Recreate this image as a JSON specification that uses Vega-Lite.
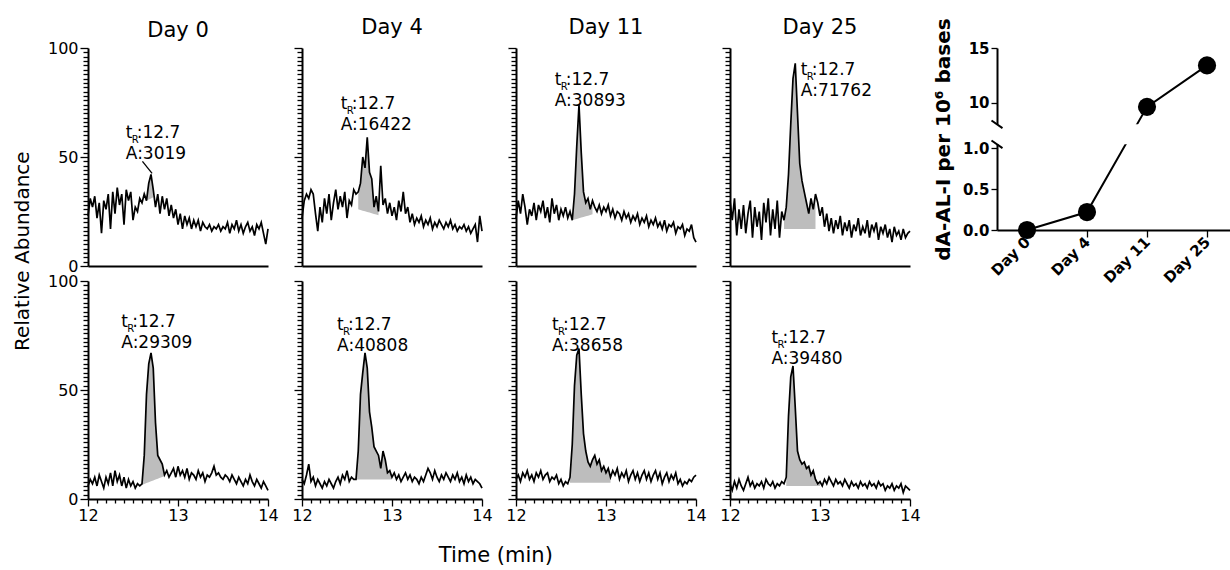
{
"$schema":"https://vega.github.io/schema/vega-lite/v6.json",
"padding":{"left":13,"top":17,"right":0,"bottom":0},
"background":"white",
"config":{
 "view":{"stroke":null},
 "font":"DejaVu Sans",
 "axis":{"domainColor":"#000","domainWidth":2,"tickColor":"#000","tickWidth":1.3,"labelColor":"#000","labelFont":"DejaVu Sans","labelFontSize":16,"titleColor":"#000","titleFont":"DejaVu Sans","grid":false},
 "title":{"color":"#000","font":"DejaVu Sans","fontWeight":"normal"},
 "text":{"font":"DejaVu Sans","color":"#000"}
},
"datasets":{
"d0t":[{"x":12,"y":23},{"x":12.025,"y":31},{"x":12.05,"y":27},{"x":12.075,"y":32},{"x":12.1,"y":22},{"x":12.125,"y":29},{"x":12.15,"y":15},{"x":12.175,"y":30},{"x":12.2,"y":26},{"x":12.225,"y":33},
{"x":12.25,"y":17},{"x":12.275,"y":34},{"x":12.3,"y":24},{"x":12.325,"y":36},{"x":12.35,"y":28},{"x":12.375,"y":33},{"x":12.4,"y":19},{"x":12.425,"y":35},{"x":12.45,"y":30},{"x":12.475,"y":34},
{"x":12.5,"y":21},{"x":12.525,"y":27},{"x":12.55,"y":25},{"x":12.575,"y":31},{"x":12.6,"y":29},{"x":12.625,"y":33},{"x":12.65,"y":30,"b":30},{"x":12.675,"y":38,"b":30.5},{"x":12.7,"y":42,"b":31},{"x":12.725,"y":35,"b":31.5},
{"x":12.75,"y":27},{"x":12.775,"y":33},{"x":12.8,"y":24},{"x":12.825,"y":32},{"x":12.85,"y":26},{"x":12.875,"y":31},{"x":12.9,"y":23},{"x":12.925,"y":28},{"x":12.95,"y":22},{"x":12.975,"y":26},
{"x":13,"y":19},{"x":13.025,"y":24},{"x":13.05,"y":17},{"x":13.075,"y":23},{"x":13.1,"y":19},{"x":13.125,"y":22},{"x":13.15,"y":17},{"x":13.175,"y":21},{"x":13.2,"y":18},{"x":13.225,"y":21},
{"x":13.25,"y":16},{"x":13.275,"y":20},{"x":13.3,"y":18},{"x":13.325,"y":17},{"x":13.35,"y":19},{"x":13.375,"y":16},{"x":13.4,"y":18},{"x":13.425,"y":17},{"x":13.45,"y":19},{"x":13.475,"y":16},
{"x":13.5,"y":18},{"x":13.525,"y":17},{"x":13.55,"y":20},{"x":13.575,"y":15},{"x":13.6,"y":19},{"x":13.625,"y":17},{"x":13.65,"y":21},{"x":13.675,"y":16},{"x":13.7,"y":19},{"x":13.725,"y":15},
{"x":13.75,"y":18},{"x":13.775,"y":20},{"x":13.8,"y":16},{"x":13.825,"y":18},{"x":13.85,"y":14},{"x":13.875,"y":19},{"x":13.9,"y":17},{"x":13.925,"y":20},{"x":13.95,"y":15},{"x":13.975,"y":10},
{"x":14,"y":17}],
"d4t":[{"x":12,"y":22},{"x":12.025,"y":30},{"x":12.05,"y":33},{"x":12.075,"y":31},{"x":12.1,"y":35},{"x":12.125,"y":33},{"x":12.15,"y":24},{"x":12.175,"y":16},{"x":12.2,"y":27},{"x":12.225,"y":20},
{"x":12.25,"y":31},{"x":12.275,"y":24},{"x":12.3,"y":33},{"x":12.325,"y":21},{"x":12.35,"y":29},{"x":12.375,"y":35},{"x":12.4,"y":26},{"x":12.425,"y":32},{"x":12.45,"y":27},{"x":12.475,"y":34},
{"x":12.5,"y":22},{"x":12.525,"y":30},{"x":12.55,"y":28},{"x":12.575,"y":35},{"x":12.6,"y":33},{"x":12.625,"y":34,"b":26},{"x":12.65,"y":38,"b":25.7},{"x":12.675,"y":50,"b":25.4},{"x":12.7,"y":45,"b":25.1},{"x":12.725,"y":59,"b":24.8},
{"x":12.75,"y":43,"b":24.5},{"x":12.775,"y":40,"b":24.2},{"x":12.8,"y":27,"b":23.9},{"x":12.825,"y":32,"b":23.6},{"x":12.85,"y":25,"b":23.3},{"x":12.875,"y":46},{"x":12.9,"y":28},{"x":12.925,"y":31},{"x":12.95,"y":24},{"x":12.975,"y":29},
{"x":13,"y":23},{"x":13.025,"y":27},{"x":13.05,"y":21},{"x":13.075,"y":30},{"x":13.1,"y":25},{"x":13.125,"y":34},{"x":13.15,"y":24},{"x":13.175,"y":27},{"x":13.2,"y":20},{"x":13.225,"y":24},
{"x":13.25,"y":19},{"x":13.275,"y":22},{"x":13.3,"y":20},{"x":13.325,"y":23},{"x":13.35,"y":18},{"x":13.375,"y":21},{"x":13.4,"y":19},{"x":13.425,"y":22},{"x":13.45,"y":17},{"x":13.475,"y":20},
{"x":13.5,"y":18},{"x":13.525,"y":21},{"x":13.55,"y":19},{"x":13.575,"y":17},{"x":13.6,"y":20},{"x":13.625,"y":18},{"x":13.65,"y":21},{"x":13.675,"y":17},{"x":13.7,"y":19},{"x":13.725,"y":16},
{"x":13.75,"y":18},{"x":13.775,"y":17},{"x":13.8,"y":19},{"x":13.825,"y":16},{"x":13.85,"y":18},{"x":13.875,"y":15},{"x":13.9,"y":17},{"x":13.925,"y":19},{"x":13.95,"y":11},{"x":13.975,"y":23},
{"x":14,"y":16}],
"d11t":[{"x":12,"y":22},{"x":12.025,"y":30},{"x":12.05,"y":24},{"x":12.075,"y":33},{"x":12.1,"y":27},{"x":12.125,"y":19},{"x":12.15,"y":26},{"x":12.175,"y":23},{"x":12.2,"y":29},{"x":12.225,"y":21},
{"x":12.25,"y":28},{"x":12.275,"y":25},{"x":12.3,"y":30},{"x":12.325,"y":22},{"x":12.35,"y":27},{"x":12.375,"y":20},{"x":12.4,"y":31},{"x":12.425,"y":24},{"x":12.45,"y":28},{"x":12.475,"y":21},
{"x":12.5,"y":26},{"x":12.525,"y":23},{"x":12.55,"y":27},{"x":12.575,"y":22},{"x":12.6,"y":25},{"x":12.625,"y":21,"b":21},{"x":12.65,"y":33,"b":21.3},{"x":12.675,"y":55,"b":21.6},{"x":12.7,"y":74,"b":21.9},{"x":12.725,"y":52,"b":22.2},
{"x":12.75,"y":34,"b":22.5},{"x":12.775,"y":29,"b":22.8},{"x":12.8,"y":31,"b":23.1},{"x":12.825,"y":26,"b":23.4},{"x":12.85,"y":30,"b":23.7},{"x":12.875,"y":27},{"x":12.9,"y":25},{"x":12.925,"y":28},{"x":12.95,"y":24},{"x":12.975,"y":27},
{"x":13,"y":25},{"x":13.025,"y":28},{"x":13.05,"y":23},{"x":13.075,"y":26},{"x":13.1,"y":22},{"x":13.125,"y":25},{"x":13.15,"y":24},{"x":13.175,"y":21},{"x":13.2,"y":25},{"x":13.225,"y":22},
{"x":13.25,"y":24},{"x":13.275,"y":20},{"x":13.3,"y":23},{"x":13.325,"y":21},{"x":13.35,"y":24},{"x":13.375,"y":19},{"x":13.4,"y":22},{"x":13.425,"y":20},{"x":13.45,"y":23},{"x":13.475,"y":18},
{"x":13.5,"y":21},{"x":13.525,"y":19},{"x":13.55,"y":22},{"x":13.575,"y":18},{"x":13.6,"y":20},{"x":13.625,"y":17},{"x":13.65,"y":21},{"x":13.675,"y":16},{"x":13.7,"y":19},{"x":13.725,"y":18},
{"x":13.75,"y":20},{"x":13.775,"y":15},{"x":13.8,"y":18},{"x":13.825,"y":17},{"x":13.85,"y":19},{"x":13.875,"y":14},{"x":13.9,"y":17},{"x":13.925,"y":16},{"x":13.95,"y":19},{"x":13.975,"y":13},
{"x":14,"y":11}],
"d25t":[{"x":12,"y":30},{"x":12.025,"y":21},{"x":12.05,"y":31},{"x":12.075,"y":14},{"x":12.1,"y":26},{"x":12.125,"y":17},{"x":12.15,"y":28},{"x":12.175,"y":15},{"x":12.2,"y":24},{"x":12.225,"y":30},
{"x":12.25,"y":13},{"x":12.275,"y":27},{"x":12.3,"y":18},{"x":12.325,"y":25},{"x":12.35,"y":12},{"x":12.375,"y":29},{"x":12.4,"y":20},{"x":12.425,"y":31},{"x":12.45,"y":14},{"x":12.475,"y":26},
{"x":12.5,"y":17},{"x":12.525,"y":30},{"x":12.55,"y":13},{"x":12.575,"y":25},{"x":12.6,"y":21,"b":17},{"x":12.625,"y":27,"b":17},{"x":12.65,"y":42,"b":17},{"x":12.675,"y":65,"b":17},{"x":12.7,"y":86,"b":17},{"x":12.725,"y":93,"b":17},
{"x":12.75,"y":70,"b":17},{"x":12.775,"y":47,"b":17},{"x":12.8,"y":39,"b":17},{"x":12.825,"y":34,"b":17},{"x":12.85,"y":29,"b":17},{"x":12.875,"y":24,"b":17},{"x":12.9,"y":31,"b":17},{"x":12.925,"y":26,"b":17},{"x":12.95,"y":33,"b":17},{"x":12.975,"y":29},
{"x":13,"y":23},{"x":13.025,"y":27},{"x":13.05,"y":18},{"x":13.075,"y":24},{"x":13.1,"y":16},{"x":13.125,"y":22},{"x":13.15,"y":15},{"x":13.175,"y":21},{"x":13.2,"y":17},{"x":13.225,"y":23},
{"x":13.25,"y":14},{"x":13.275,"y":20},{"x":13.3,"y":16},{"x":13.325,"y":21},{"x":13.35,"y":13},{"x":13.375,"y":19},{"x":13.4,"y":16},{"x":13.425,"y":22},{"x":13.45,"y":14},{"x":13.475,"y":18},
{"x":13.5,"y":15},{"x":13.525,"y":21},{"x":13.55,"y":13},{"x":13.575,"y":19},{"x":13.6,"y":16},{"x":13.625,"y":20},{"x":13.65,"y":12},{"x":13.675,"y":18},{"x":13.7,"y":15},{"x":13.725,"y":19},
{"x":13.75,"y":13},{"x":13.775,"y":17},{"x":13.8,"y":11},{"x":13.825,"y":18},{"x":13.85,"y":14},{"x":13.875,"y":16},{"x":13.9,"y":12},{"x":13.925,"y":17},{"x":13.95,"y":13},{"x":13.975,"y":15},
{"x":14,"y":16}],
"d0b":[{"x":12,"y":6},{"x":12.025,"y":9},{"x":12.05,"y":7},{"x":12.075,"y":10},{"x":12.1,"y":6},{"x":12.125,"y":11},{"x":12.15,"y":8},{"x":12.175,"y":5},{"x":12.2,"y":10},{"x":12.225,"y":7},
{"x":12.25,"y":12},{"x":12.275,"y":6},{"x":12.3,"y":13},{"x":12.325,"y":8},{"x":12.35,"y":11},{"x":12.375,"y":6},{"x":12.4,"y":10},{"x":12.425,"y":5},{"x":12.45,"y":9},{"x":12.475,"y":6},
{"x":12.5,"y":8},{"x":12.525,"y":5},{"x":12.55,"y":7},{"x":12.575,"y":6},{"x":12.6,"y":7,"b":6.5},{"x":12.625,"y":20,"b":6.9},{"x":12.65,"y":48,"b":7.3},{"x":12.675,"y":62,"b":7.7},{"x":12.7,"y":67,"b":8.1},{"x":12.725,"y":60,"b":8.5},
{"x":12.75,"y":35,"b":8.9},{"x":12.775,"y":20,"b":9.3},{"x":12.8,"y":18,"b":9.7},{"x":12.825,"y":16,"b":10.1},{"x":12.85,"y":11,"b":10.5},{"x":12.875,"y":13},{"x":12.9,"y":10},{"x":12.925,"y":12},{"x":12.95,"y":14},{"x":12.975,"y":10},
{"x":13,"y":15},{"x":13.025,"y":11},{"x":13.05,"y":13},{"x":13.075,"y":10},{"x":13.1,"y":14},{"x":13.125,"y":9},{"x":13.15,"y":12},{"x":13.175,"y":11},{"x":13.2,"y":9},{"x":13.225,"y":13},
{"x":13.25,"y":10},{"x":13.275,"y":12},{"x":13.3,"y":8},{"x":13.325,"y":11},{"x":13.35,"y":10},{"x":13.375,"y":12},{"x":13.4,"y":15},{"x":13.425,"y":11},{"x":13.45,"y":12},{"x":13.475,"y":10},
{"x":13.5,"y":9},{"x":13.525,"y":11},{"x":13.55,"y":10},{"x":13.575,"y":8},{"x":13.6,"y":11},{"x":13.625,"y":9},{"x":13.65,"y":7},{"x":13.675,"y":10},{"x":13.7,"y":8},{"x":13.725,"y":6},
{"x":13.75,"y":9},{"x":13.775,"y":7},{"x":13.8,"y":11},{"x":13.825,"y":8},{"x":13.85,"y":6},{"x":13.875,"y":9},{"x":13.9,"y":7},{"x":13.925,"y":5},{"x":13.95,"y":8},{"x":13.975,"y":6},
{"x":14,"y":4}],
"d4b":[{"x":12,"y":9},{"x":12.025,"y":7},{"x":12.05,"y":11},{"x":12.075,"y":16},{"x":12.1,"y":8},{"x":12.125,"y":10},{"x":12.15,"y":6},{"x":12.175,"y":9},{"x":12.2,"y":7},{"x":12.225,"y":5},
{"x":12.25,"y":8},{"x":12.275,"y":6},{"x":12.3,"y":9},{"x":12.325,"y":7},{"x":12.35,"y":5},{"x":12.375,"y":8},{"x":12.4,"y":10},{"x":12.425,"y":7},{"x":12.45,"y":11},{"x":12.475,"y":9},
{"x":12.5,"y":13},{"x":12.525,"y":8},{"x":12.55,"y":10},{"x":12.575,"y":9},{"x":12.6,"y":9,"b":9},{"x":12.625,"y":22,"b":9},{"x":12.65,"y":48,"b":9},{"x":12.675,"y":58,"b":9},{"x":12.7,"y":67,"b":9},{"x":12.725,"y":60,"b":9},
{"x":12.75,"y":40,"b":9},{"x":12.775,"y":33,"b":9},{"x":12.8,"y":24,"b":9},{"x":12.825,"y":22,"b":9},{"x":12.85,"y":20,"b":9},{"x":12.875,"y":14,"b":9},{"x":12.9,"y":22,"b":9},{"x":12.925,"y":18,"b":9},{"x":12.95,"y":12,"b":9},{"x":12.975,"y":13,"b":9},
{"x":13,"y":10,"b":9},{"x":13.025,"y":12},{"x":13.05,"y":9},{"x":13.075,"y":11},{"x":13.1,"y":8},{"x":13.125,"y":10},{"x":13.15,"y":12},{"x":13.175,"y":9},{"x":13.2,"y":11},{"x":13.225,"y":8},
{"x":13.25,"y":10},{"x":13.275,"y":9},{"x":13.3,"y":7},{"x":13.325,"y":10},{"x":13.35,"y":8},{"x":13.375,"y":11},{"x":13.4,"y":14},{"x":13.425,"y":12},{"x":13.45,"y":9},{"x":13.475,"y":13},
{"x":13.5,"y":10},{"x":13.525,"y":8},{"x":13.55,"y":11},{"x":13.575,"y":9},{"x":13.6,"y":12},{"x":13.625,"y":10},{"x":13.65,"y":8},{"x":13.675,"y":11},{"x":13.7,"y":9},{"x":13.725,"y":12},
{"x":13.75,"y":8},{"x":13.775,"y":10},{"x":13.8,"y":7},{"x":13.825,"y":11},{"x":13.85,"y":8},{"x":13.875,"y":10},{"x":13.9,"y":7},{"x":13.925,"y":9},{"x":13.95,"y":8},{"x":13.975,"y":7},
{"x":14,"y":5}],
"d11b":[{"x":12,"y":9},{"x":12.025,"y":11},{"x":12.05,"y":8},{"x":12.075,"y":12},{"x":12.1,"y":10},{"x":12.125,"y":13},{"x":12.15,"y":9},{"x":12.175,"y":11},{"x":12.2,"y":8},{"x":12.225,"y":12},
{"x":12.25,"y":10},{"x":12.275,"y":13},{"x":12.3,"y":9},{"x":12.325,"y":11},{"x":12.35,"y":12},{"x":12.375,"y":8},{"x":12.4,"y":10},{"x":12.425,"y":9},{"x":12.45,"y":11},{"x":12.475,"y":7},
{"x":12.5,"y":9},{"x":12.525,"y":6},{"x":12.55,"y":8},{"x":12.575,"y":7},{"x":12.6,"y":10,"b":7.5},{"x":12.625,"y":25,"b":7.5},{"x":12.65,"y":52,"b":7.5},{"x":12.675,"y":66,"b":7.5},{"x":12.7,"y":69,"b":7.5},{"x":12.725,"y":48,"b":7.5},
{"x":12.75,"y":30,"b":7.5},{"x":12.775,"y":22,"b":7.5},{"x":12.8,"y":17,"b":7.5},{"x":12.825,"y":15,"b":7.5},{"x":12.85,"y":18,"b":7.5},{"x":12.875,"y":20,"b":7.5},{"x":12.9,"y":16,"b":7.5},{"x":12.925,"y":18,"b":7.5},{"x":12.95,"y":13,"b":7.5},{"x":12.975,"y":15,"b":7.5},
{"x":13,"y":12,"b":7.5},{"x":13.025,"y":14,"b":7.5},{"x":13.05,"y":10,"b":7.5},{"x":13.075,"y":13},{"x":13.1,"y":11},{"x":13.125,"y":14},{"x":13.15,"y":9},{"x":13.175,"y":12},{"x":13.2,"y":10},{"x":13.225,"y":13},
{"x":13.25,"y":8},{"x":13.275,"y":11},{"x":13.3,"y":13},{"x":13.325,"y":9},{"x":13.35,"y":12},{"x":13.375,"y":8},{"x":13.4,"y":11},{"x":13.425,"y":13},{"x":13.45,"y":9},{"x":13.475,"y":12},
{"x":13.5,"y":8},{"x":13.525,"y":11},{"x":13.55,"y":13},{"x":13.575,"y":9},{"x":13.6,"y":12},{"x":13.625,"y":7},{"x":13.65,"y":10},{"x":13.675,"y":12},{"x":13.7,"y":8},{"x":13.725,"y":11},
{"x":13.75,"y":9},{"x":13.775,"y":12},{"x":13.8,"y":7},{"x":13.825,"y":9},{"x":13.85,"y":6},{"x":13.875,"y":8},{"x":13.9,"y":7},{"x":13.925,"y":9},{"x":13.95,"y":8},{"x":13.975,"y":10},
{"x":14,"y":11}],
"d25b":[{"x":12,"y":7},{"x":12.025,"y":4},{"x":12.05,"y":8},{"x":12.075,"y":5},{"x":12.1,"y":9},{"x":12.125,"y":6},{"x":12.15,"y":4},{"x":12.175,"y":7},{"x":12.2,"y":10},{"x":12.225,"y":6},
{"x":12.25,"y":8},{"x":12.275,"y":5},{"x":12.3,"y":7},{"x":12.325,"y":6},{"x":12.35,"y":8},{"x":12.375,"y":5},{"x":12.4,"y":9},{"x":12.425,"y":7},{"x":12.45,"y":6},{"x":12.475,"y":8},
{"x":12.5,"y":5},{"x":12.525,"y":7},{"x":12.55,"y":6},{"x":12.575,"y":8},{"x":12.6,"y":7},{"x":12.625,"y":10,"b":6},{"x":12.65,"y":38,"b":6},{"x":12.675,"y":56,"b":6},{"x":12.7,"y":61,"b":6},{"x":12.725,"y":42,"b":6},
{"x":12.75,"y":22,"b":6},{"x":12.775,"y":18,"b":6},{"x":12.8,"y":16,"b":6},{"x":12.825,"y":17,"b":6},{"x":12.85,"y":14,"b":6},{"x":12.875,"y":15,"b":6},{"x":12.9,"y":11,"b":6},{"x":12.925,"y":13,"b":6},{"x":12.95,"y":9,"b":6},{"x":12.975,"y":7,"b":6},
{"x":13,"y":8,"b":6},{"x":13.025,"y":6},{"x":13.05,"y":9},{"x":13.075,"y":7},{"x":13.1,"y":10},{"x":13.125,"y":8},{"x":13.15,"y":6},{"x":13.175,"y":9},{"x":13.2,"y":7},{"x":13.225,"y":8},
{"x":13.25,"y":6},{"x":13.275,"y":9},{"x":13.3,"y":7},{"x":13.325,"y":5},{"x":13.35,"y":8},{"x":13.375,"y":6},{"x":13.4,"y":7},{"x":13.425,"y":5},{"x":13.45,"y":8},{"x":13.475,"y":6},
{"x":13.5,"y":7},{"x":13.525,"y":5},{"x":13.55,"y":8},{"x":13.575,"y":6},{"x":13.6,"y":7},{"x":13.625,"y":5},{"x":13.65,"y":8},{"x":13.675,"y":6},{"x":13.7,"y":7},{"x":13.725,"y":4},
{"x":13.75,"y":6},{"x":13.775,"y":5},{"x":13.8,"y":7},{"x":13.825,"y":4},{"x":13.85,"y":6},{"x":13.875,"y":5},{"x":13.9,"y":7},{"x":13.925,"y":3},{"x":13.95,"y":6},{"x":13.975,"y":5},
{"x":14,"y":4}],
"pts":[{"day":"Day 0","i":0,"v":0},{"day":"Day 4","i":1,"v":0.22},{"day":"Day 11","i":2,"v":9.6},{"day":"Day 25","i":3,"v":13.4}]
},
"hconcat":[
{
 "vconcat":[
 {
 "concat":[
   {"width":180,"height":218,"title":{"text":"Day 0","fontSize":21,"frame":"group","anchor":"middle","baseline":"alphabetic","offset":-18},
    "data":{"name":"d0t"},
    "encoding":{"x":{"field":"x","type":"quantitative","scale":{"domain":[12,14],"nice":false,"zero":false},"axis":{"title":null,"ticks":false,"labels":false}},
                "y":{"field":"y","type":"quantitative","scale":{"domain":[0,100],"nice":false},"axis":{"title":null,"tickCount":50,"labelExpr":"datum.value % 50 === 0 ? format(datum.value,'d') : ''","labelOverlap":false,"labelPadding":2,"tickSize":{"condition":{"test":"datum.value % 50 === 0","value":8},"value":5}}}},
    "layer":[
     {"transform":[{"filter":"isValid(datum.b)"}],"mark":{"type":"area","color":"#bdbdbd"},"encoding":{"y2":{"field":"b"}}},
     {"mark":{"type":"line","color":"#000","strokeWidth":1.7},"encoding":{}},
     {"data":{"values":[{"x":12.605,"y":48,"x2":12.712,"y2":42.5}]},"mark":{"type":"rule","color":"#000","strokeWidth":1.3},"encoding":{"x2":{"field":"x2"},"y2":{"field":"y2"}}},
     {"data":{"values":[{"x":12.42,"y":58.6,"a":"A:3019"}]},"layer":[
      {"mark":{"type":"text","text":"t","align":"left","baseline":"alphabetic","fontSize":17}},
      {"mark":{"type":"text","text":"R","align":"left","baseline":"alphabetic","fontSize":10,"dx":6,"dy":5}},
      {"mark":{"type":"text","text":":12.7","align":"left","baseline":"alphabetic","fontSize":17,"dx":11}},
      {"mark":{"type":"text","align":"left","baseline":"alphabetic","fontSize":17,"dy":21},"encoding":{"text":{"field":"a"}}}]}
    ]},
   {"width":180,"height":218,"title":{"text":"Day 4","fontSize":21,"frame":"group","anchor":"middle","baseline":"alphabetic","offset":-8},
    "data":{"name":"d4t"},
    "encoding":{"x":{"field":"x","type":"quantitative","scale":{"domain":[12,14],"nice":false,"zero":false},"axis":{"title":null,"ticks":false,"labels":false}},
                "y":{"field":"y","type":"quantitative","scale":{"domain":[0,100],"nice":false},"axis":{"title":null,"tickCount":50,"labels":false,"tickSize":{"condition":{"test":"datum.value % 50 === 0","value":8},"value":5}}}},
    "layer":[
     {"transform":[{"filter":"isValid(datum.b)"}],"mark":{"type":"area","color":"#bdbdbd"},"encoding":{"y2":{"field":"b"}}},
     {"mark":{"type":"line","color":"#000","strokeWidth":1.7},"encoding":{}},
     {"data":{"values":[{"x":12.43,"y":72.2,"a":"A:16422"}]},"layer":[
      {"mark":{"type":"text","text":"t","align":"left","baseline":"alphabetic","fontSize":17}},
      {"mark":{"type":"text","text":"R","align":"left","baseline":"alphabetic","fontSize":10,"dx":6,"dy":5}},
      {"mark":{"type":"text","text":":12.7","align":"left","baseline":"alphabetic","fontSize":17,"dx":11}},
      {"mark":{"type":"text","align":"left","baseline":"alphabetic","fontSize":17,"dy":21},"encoding":{"text":{"field":"a"}}}]}
    ]},
   {"width":180,"height":218,"title":{"text":"Day 11","fontSize":21,"frame":"group","anchor":"middle","baseline":"alphabetic","offset":-8},
    "data":{"name":"d11t"},
    "encoding":{"x":{"field":"x","type":"quantitative","scale":{"domain":[12,14],"nice":false,"zero":false},"axis":{"title":null,"ticks":false,"labels":false}},
                "y":{"field":"y","type":"quantitative","scale":{"domain":[0,100],"nice":false},"axis":{"title":null,"tickCount":50,"labels":false,"tickSize":{"condition":{"test":"datum.value % 50 === 0","value":8},"value":5}}}},
    "layer":[
     {"transform":[{"filter":"isValid(datum.b)"}],"mark":{"type":"area","color":"#bdbdbd"},"encoding":{"y2":{"field":"b"}}},
     {"mark":{"type":"line","color":"#000","strokeWidth":1.7},"encoding":{}},
     {"data":{"values":[{"x":12.43,"y":82.9,"a":"A:30893"}]},"layer":[
      {"mark":{"type":"text","text":"t","align":"left","baseline":"alphabetic","fontSize":17}},
      {"mark":{"type":"text","text":"R","align":"left","baseline":"alphabetic","fontSize":10,"dx":6,"dy":5}},
      {"mark":{"type":"text","text":":12.7","align":"left","baseline":"alphabetic","fontSize":17,"dx":11}},
      {"mark":{"type":"text","align":"left","baseline":"alphabetic","fontSize":17,"dy":21},"encoding":{"text":{"field":"a"}}}]}
    ]},
   {"width":180,"height":218,"title":{"text":"Day 25","fontSize":21,"frame":"group","anchor":"middle","baseline":"alphabetic","offset":-8},
    "data":{"name":"d25t"},
    "encoding":{"x":{"field":"x","type":"quantitative","scale":{"domain":[12,14],"nice":false,"zero":false},"axis":{"title":null,"ticks":false,"labels":false}},
                "y":{"field":"y","type":"quantitative","scale":{"domain":[0,100],"nice":false},"axis":{"title":null,"tickCount":50,"labels":false,"tickSize":{"condition":{"test":"datum.value % 50 === 0","value":8},"value":5}}}},
    "layer":[
     {"transform":[{"filter":"isValid(datum.b)"}],"mark":{"type":"area","color":"#bdbdbd"},"encoding":{"y2":{"field":"b"}}},
     {"mark":{"type":"line","color":"#000","strokeWidth":1.7},"encoding":{}},
     {"data":{"values":[{"x":12.787,"y":87.5,"a":"A:71762"}]},"layer":[
      {"mark":{"type":"text","text":"t","align":"left","baseline":"alphabetic","fontSize":17}},
      {"mark":{"type":"text","text":"R","align":"left","baseline":"alphabetic","fontSize":10,"dx":6,"dy":5}},
      {"mark":{"type":"text","text":":12.7","align":"left","baseline":"alphabetic","fontSize":17,"dx":11}},
      {"mark":{"type":"text","align":"left","baseline":"alphabetic","fontSize":17,"dy":21},"encoding":{"text":{"field":"a"}}}]}
    ]},
   {"width":180,"height":218,
    "data":{"name":"d0b"},
    "encoding":{"x":{"field":"x","type":"quantitative","scale":{"domain":[12,14],"nice":false,"zero":false},"axis":{"title":null,"tickCount":20,"labelExpr":"abs(datum.value-round(datum.value))<0.001 ? format(datum.value,'d') : ''","labelOverlap":false,"labelFlush":false,"labelPadding":1,"tickSize":{"condition":{"test":"abs(datum.value-round(datum.value))<0.001","value":7},"value":4}}},
                "y":{"field":"y","type":"quantitative","scale":{"domain":[0,100],"nice":false},"axis":{"title":null,"tickCount":50,"labelExpr":"datum.value % 50 === 0 ? format(datum.value,'d') : ''","labelOverlap":false,"labelPadding":2,"tickSize":{"condition":{"test":"datum.value % 50 === 0","value":8},"value":5}}}},
    "layer":[
     {"transform":[{"filter":"isValid(datum.b)"}],"mark":{"type":"area","color":"#bdbdbd"},"encoding":{"y2":{"field":"b"}}},
     {"mark":{"type":"line","color":"#000","strokeWidth":1.7},"encoding":{}},
     {"data":{"values":[{"x":12.37,"y":79,"a":"A:29309"}]},"layer":[
      {"mark":{"type":"text","text":"t","align":"left","baseline":"alphabetic","fontSize":17}},
      {"mark":{"type":"text","text":"R","align":"left","baseline":"alphabetic","fontSize":10,"dx":6,"dy":5}},
      {"mark":{"type":"text","text":":12.7","align":"left","baseline":"alphabetic","fontSize":17,"dx":11}},
      {"mark":{"type":"text","align":"left","baseline":"alphabetic","fontSize":17,"dy":21},"encoding":{"text":{"field":"a"}}}]}
    ]},
   {"width":180,"height":218,
    "data":{"name":"d4b"},
    "encoding":{"x":{"field":"x","type":"quantitative","scale":{"domain":[12,14],"nice":false,"zero":false},"axis":{"title":null,"tickCount":20,"labelExpr":"abs(datum.value-round(datum.value))<0.001 ? format(datum.value,'d') : ''","labelOverlap":false,"labelFlush":false,"labelPadding":1,"tickSize":{"condition":{"test":"abs(datum.value-round(datum.value))<0.001","value":7},"value":4}}},
                "y":{"field":"y","type":"quantitative","scale":{"domain":[0,100],"nice":false},"axis":{"title":null,"tickCount":50,"labels":false,"tickSize":{"condition":{"test":"datum.value % 50 === 0","value":8},"value":5}}}},
    "layer":[
     {"transform":[{"filter":"isValid(datum.b)"}],"mark":{"type":"area","color":"#bdbdbd"},"encoding":{"y2":{"field":"b"}}},
     {"mark":{"type":"line","color":"#000","strokeWidth":1.7},"encoding":{}},
     {"data":{"values":[{"x":12.39,"y":77.5,"a":"A:40808"}]},"layer":[
      {"mark":{"type":"text","text":"t","align":"left","baseline":"alphabetic","fontSize":17}},
      {"mark":{"type":"text","text":"R","align":"left","baseline":"alphabetic","fontSize":10,"dx":6,"dy":5}},
      {"mark":{"type":"text","text":":12.7","align":"left","baseline":"alphabetic","fontSize":17,"dx":11}},
      {"mark":{"type":"text","align":"left","baseline":"alphabetic","fontSize":17,"dy":21},"encoding":{"text":{"field":"a"}}}]}
    ]},
   {"width":180,"height":218,
    "data":{"name":"d11b"},
    "encoding":{"x":{"field":"x","type":"quantitative","scale":{"domain":[12,14],"nice":false,"zero":false},"axis":{"title":null,"tickCount":20,"labelExpr":"abs(datum.value-round(datum.value))<0.001 ? format(datum.value,'d') : ''","labelOverlap":false,"labelFlush":false,"labelPadding":1,"tickSize":{"condition":{"test":"abs(datum.value-round(datum.value))<0.001","value":7},"value":4}}},
                "y":{"field":"y","type":"quantitative","scale":{"domain":[0,100],"nice":false},"axis":{"title":null,"tickCount":50,"labels":false,"tickSize":{"condition":{"test":"datum.value % 50 === 0","value":8},"value":5}}}},
    "layer":[
     {"transform":[{"filter":"isValid(datum.b)"}],"mark":{"type":"area","color":"#bdbdbd"},"encoding":{"y2":{"field":"b"}}},
     {"mark":{"type":"line","color":"#000","strokeWidth":1.7},"encoding":{}},
     {"data":{"values":[{"x":12.4,"y":77.5,"a":"A:38658"}]},"layer":[
      {"mark":{"type":"text","text":"t","align":"left","baseline":"alphabetic","fontSize":17}},
      {"mark":{"type":"text","text":"R","align":"left","baseline":"alphabetic","fontSize":10,"dx":6,"dy":5}},
      {"mark":{"type":"text","text":":12.7","align":"left","baseline":"alphabetic","fontSize":17,"dx":11}},
      {"mark":{"type":"text","align":"left","baseline":"alphabetic","fontSize":17,"dy":21},"encoding":{"text":{"field":"a"}}}]}
    ]},
   {"width":180,"height":218,
    "data":{"name":"d25b"},
    "encoding":{"x":{"field":"x","type":"quantitative","scale":{"domain":[12,14],"nice":false,"zero":false},"axis":{"title":null,"tickCount":20,"labelExpr":"abs(datum.value-round(datum.value))<0.001 ? format(datum.value,'d') : ''","labelOverlap":false,"labelFlush":false,"labelPadding":1,"tickSize":{"condition":{"test":"abs(datum.value-round(datum.value))<0.001","value":7},"value":4}}},
                "y":{"field":"y","type":"quantitative","scale":{"domain":[0,100],"nice":false},"axis":{"title":null,"tickCount":50,"labels":false,"tickSize":{"condition":{"test":"datum.value % 50 === 0","value":8},"value":5}}}},
    "layer":[
     {"transform":[{"filter":"isValid(datum.b)"}],"mark":{"type":"area","color":"#bdbdbd"},"encoding":{"y2":{"field":"b"}}},
     {"mark":{"type":"line","color":"#000","strokeWidth":1.7},"encoding":{}},
     {"data":{"values":[{"x":12.46,"y":71.4,"a":"A:39480"}]},"layer":[
      {"mark":{"type":"text","text":"t","align":"left","baseline":"alphabetic","fontSize":17}},
      {"mark":{"type":"text","text":"R","align":"left","baseline":"alphabetic","fontSize":10,"dx":6,"dy":5}},
      {"mark":{"type":"text","text":":12.7","align":"left","baseline":"alphabetic","fontSize":17,"dx":11}},
      {"mark":{"type":"text","align":"left","baseline":"alphabetic","fontSize":17,"dy":21},"encoding":{"text":{"field":"a"}}}]}
    ]}
 ],
 "columns":4,
 "spacing":{"row":15,"column":34},
 "bounds":"flush",
 "title":{"text":"Relative Abundance","orient":"left","fontSize":20,"anchor":"middle","offset":14,"dx":19}
 }
 ],
 "title":{"text":"Time (min)","orient":"bottom","fontSize":21,"anchor":"middle","offset":22,"dx":29}
},
{
 "width":240,"height":182,
 "layer":[
  {"data":{"name":"pts"},"mark":{"type":"line","color":"#000","strokeWidth":2},
   "encoding":{"x":{"field":"i","type":"quantitative","scale":{"domain":[-0.5,3.5],"nice":false,"zero":false},"axis":{"title":null,"values":[0,1,2,3],"labelExpr":"['Day 0','Day 4','Day 11','Day 25'][datum.value]","labelAngle":-45,"labelAlign":"right","labelBaseline":"middle","labelFontWeight":"bold","labelFontSize":15,"tickSize":7,"labelPadding":2}},
               "y":{"field":"v","type":"quantitative","scale":{"domain":[0,1.05,8,15],"range":[182,96.3,76.3,0],"nice":false,"zero":false},"axis":{"title":"dA-AL-I per 10⁶ bases","values":[0,0.5,1,10,15],"labelExpr":"datum.value < 5 ? format(datum.value,'.1f') : format(datum.value,'d')","labelFontWeight":"bold","labelFontSize":15,"tickSize":6,"labelPadding":2,"titleFontSize":20,"titleFontWeight":"bold","titlePadding":9}}}},
  {"data":{"values":[{}]},"mark":{"type":"rect","color":"#fff"},
   "encoding":{"x":{"datum":-0.6,"type":"quantitative"},"x2":{"datum":3.5},"y":{"datum":1.05,"type":"quantitative"},"y2":{"datum":8}}},
  {"data":{"values":[{}]},"mark":{"type":"point","shape":"M-1,-0.7L1,0.7","filled":false,"color":"#000","strokeWidth":2,"size":120,"opacity":1},
   "encoding":{"x":{"datum":-0.5,"type":"quantitative"},"y":{"datum":8,"type":"quantitative"}}},
  {"data":{"values":[{}]},"mark":{"type":"point","shape":"M-1,-0.7L1,0.7","filled":false,"color":"#000","strokeWidth":2,"size":120,"opacity":1},
   "encoding":{"x":{"datum":-0.5,"type":"quantitative"},"y":{"datum":1.05,"type":"quantitative"}}},
  {"data":{"name":"pts"},"mark":{"type":"circle","color":"#000","size":330,"opacity":1},
   "encoding":{"x":{"field":"i","type":"quantitative"},"y":{"field":"v","type":"quantitative"}}}
 ]
}
],
"spacing":12
}
